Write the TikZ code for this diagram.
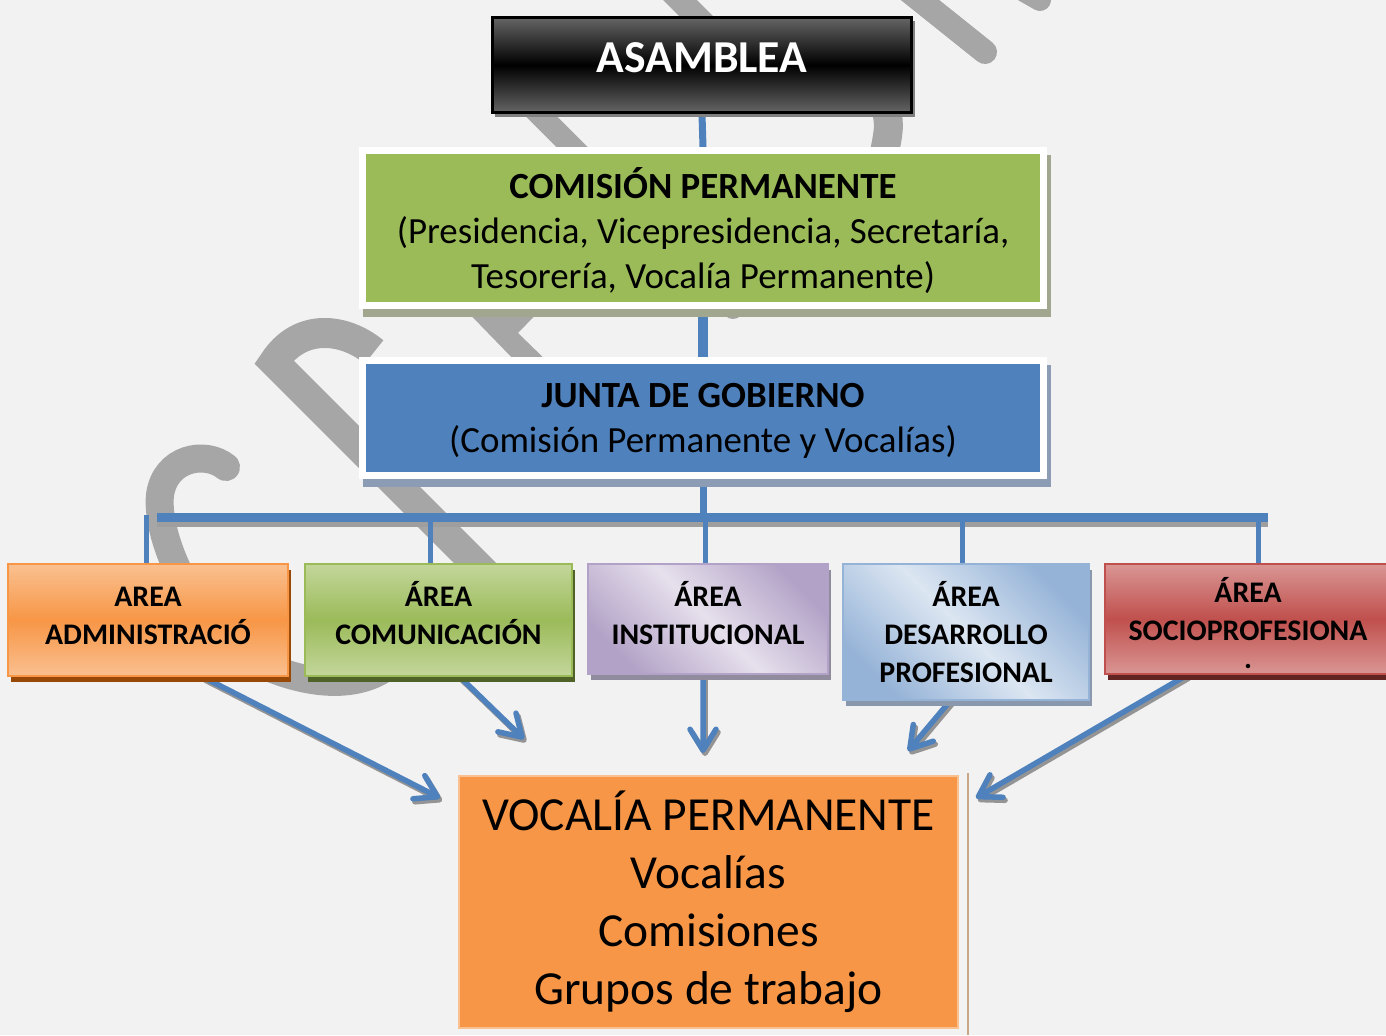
\documentclass[tikz,border=0pt]{standalone}
\usepackage{fontspec}
\setmainfont{Carlito}
\usetikzlibrary{arrows.meta,shadows}
\pgfdeclarelayer{wm}
\pgfdeclarelayer{bg}
\pgfsetlayers{wm,bg,main}
\definecolor{bgcol}{HTML}{F2F2F2}
\definecolor{wmgray}{HTML}{A6A6A6}
\definecolor{blueline}{HTML}{4F81BD}
\definecolor{comgreen}{HTML}{9BBB59}
\definecolor{comshadow}{HTML}{A0A78E}
\definecolor{juntablue}{HTML}{4F81BD}
\definecolor{juntashadow}{HTML}{8C9CB4}
\definecolor{admL}{HTML}{FAC090}
\definecolor{admD}{HTML}{F79646}
\definecolor{admS}{HTML}{984807}
\definecolor{comL}{HTML}{C3D69B}
\definecolor{comD}{HTML}{9BBB59}
\definecolor{comS}{HTML}{4F6228}
\definecolor{insL}{HTML}{E6E0EC}
\definecolor{insD}{HTML}{B3A2C7}
\definecolor{insS}{HTML}{908C9E}
\definecolor{desL}{HTML}{DCE6F2}
\definecolor{desD}{HTML}{95B3D7}
\definecolor{desS}{HTML}{8A98AE}
\definecolor{socL}{HTML}{D99694}
\definecolor{socD}{HTML}{C0504D}
\definecolor{socS}{HTML}{632523}
\definecolor{vocfill}{HTML}{F79646}
\definecolor{tanline}{HTML}{C8A68A}

\begin{document}
\begin{tikzpicture}[x=0.02cm, y=-0.02cm,
		wmark/.style={draw=wmgray, line width=0.5cm},
		conn/.style={draw=blueline, line width=0.14cm},
		barline/.style={draw=blueline, line width=0.18cm},
		dropline/.style={draw=blueline, line width=0.1cm},
		arr/.style={draw=blueline, line width=0.11cm, -{Straight Barb[length=0.42cm, width=0.52cm, round]}},
		arrsh/.style={draw=black!42, line width=0.11cm, -{Straight Barb[length=0.42cm, width=0.52cm, round]}, transform canvas={shift={(0.04cm,-0.06cm)}}},
		topbox/.style={top color=black!60, bottom color=black!60, middle color=black, draw=black, line width=0.06cm,
			drop shadow={shadow xshift=0.06cm, shadow yshift=-0.08cm, fill=black!50, opacity=1},
			minimum width=8.4cm, minimum height=1.92cm, inner sep=0pt, text depth=0.28cm, text=white, font=\fontsize{26}{30}\selectfont\bfseries},
		bigbox/.style 2 args={fill=#1, draw=white, line width=0.14cm,
			preaction={fill=#2, draw=#2, line width=0.14cm, transform canvas={shift={(0.08cm,-0.16cm)}}},
			minimum width=13.62cm, align=center, inner sep=0pt, text depth=0pt, font=\fontsize{21}{25.5}\selectfont},
		areabox/.style={align=center, inner sep=0pt, line width=0.04cm, font=\fontsize{17}{21.5}\selectfont\bfseries},
		vgrad/.style 2 args={top color=#1, bottom color=#1, middle color=#2, draw=#2},
		dgrad/.style 2 args={top color=#2, bottom color=#2, middle color=#1, shading angle=-45, draw=#2},
		areash/.style={drop shadow={shadow xshift=0.06cm, shadow yshift=-0.12cm, fill=#1, opacity=1}},
	]
	\useasboundingbox (0,0) rectangle (1386,1035);
	
	% background and watermark
	\begin{pgfonlayer}{wm}
		\fill[bgcol] (0,0) rectangle (1386,1035);
		\draw[wmark, line width=0.6cm] (374,352) .. controls (345,328) and (300,322) .. (274,362) -- (500,588);
		\draw[wmark, line width=0.56cm, line cap=round] (226,467) .. controls (205,450) and (165,458) .. (160,495) .. controls (155,540) and (200,640) .. (270,668) .. controls (320,688) and (360,685) .. (385,668);
		\fill[wmgray] (456,300) -- (550,300) -- (518,333) -- (552,366) -- (520,366) -- cycle;
		\draw[wmark, line width=0.44cm, line cap=round] (520,95) -- (733,308);
		\draw[wmark, line width=0.48cm] (670,-10) -- (720,40);
		\draw[wmark, line width=0.48cm, line cap=round] (905,-12) -- (985,52);
		\draw[wmark, line width=0.44cm, line cap=round] (1005,-20) -- (1040,0);
		\draw[wmark, line width=0.58cm] (884,100) .. controls (890,125) .. (883,160);
	\end{pgfonlayer}
	
	% boxes
	\node[topbox] (asamblea) at (702,65) {ASAMBLEA};
	\node[bigbox={comgreen}{comshadow}, minimum height=3.1cm] (comision) at (703,228)
		{\textbf{COMISIÓN PERMANENTE}\\(Presidencia, Vicepresidencia, Secretaría,\\Tesorería, Vocalía Permanente)};
	\node[bigbox={juntablue}{juntashadow}, minimum height=2.3cm] (junta) at (703,418)
		{\textbf{JUNTA DE GOBIERNO}\\(Comisión Permanente y Vocalías)};
	
	\node[areabox, vgrad={admL}{admD}, areash=admS, minimum width=5.6cm, minimum height=2.24cm, text depth=0.16cm] (admin) at (148,620) {AREA\\ADMINISTRACIÓ};
	\node[areabox, vgrad={comL}{comD}, areash=comS, minimum width=5.34cm, minimum height=2.24cm, text depth=0.28cm] (comunic) at (438.5,620) {ÁREA\\COMUNICACIÓN};
	\node[areabox, dgrad={insL}{insD}, areash=insS, minimum width=4.8cm, minimum height=2.2cm, text depth=0.24cm] (instit) at (708,619) {ÁREA\\INSTITUCIONAL};
	\node[areabox, dgrad={desL}{desD}, areash=desS, minimum width=4.92cm, minimum height=2.72cm] (desarr) at (966,632) {ÁREA\\DESARROLLO\\PROFESIONAL};
	\node[areabox, vgrad={socL}{socD}, areash=socS, minimum width=5.72cm, minimum height=2.2cm, text height=1.96cm, text depth=0pt] (socio) at (1248,619) {ÁREA\\SOCIOPROFESIONA\\[-6pt].};
	
	\node[fill=vocfill, draw=admL, line width=0.03cm, minimum width=9.98cm, minimum height=5.04cm, align=center, inner sep=0pt,
		font=\fontsize{27}{33}\selectfont] (vocalia) at (708.5,902) {VOCALÍA PERMANENTE\\Vocalías\\Comisiones\\Grupos de trabajo};
	\draw[tanline, line width=0.05cm] (968,773) -- (968,1035);
	
	% connectors
	\coordinate (barL) at (157,517);
	\coordinate (barR) at (1268,517);
	\coordinate (d1) at (146,515);
	\coordinate (d2) at (430,517);
	\coordinate (d3) at (705,517);
	\coordinate (d4) at (962,517);
	\coordinate (d5) at (1258,517);
	\coordinate (t1) at (440,798);
	\coordinate (t2) at (524,739);
	\coordinate (t3) at (703,753);
	\coordinate (t4) at (908,751);
	\coordinate (t5) at (976,798);
	
	\begin{pgfonlayer}{bg}
		\draw[conn] (asamblea.south) -- (comision.north);
		\draw[conn, line width=0.2cm] (comision.south) -- (junta.north);
		\draw[conn] (junta.south) -- (junta.south |- barL);
		\draw[barline, draw=black!38, transform canvas={shift={(0cm,-0.1cm)}}] (barL) -- (barR);
		\draw[barline] (barL) -- (barR);
		\draw[dropline] (d1) -- (d1 |- admin.north);
		\draw[dropline] (d2) -- (d2 |- comunic.north);
		\draw[dropline] (d3) -- (d3 |- instit.north);
		\draw[dropline] (d4) -- (d4 |- desarr.north);
		\draw[dropline] (d5) -- (d5 |- socio.north);
		
		\foreach \n/\dx/\t in {admin/1.1/t1, comunic/0.43/t2, instit/-0.1/t3, desarr/-0.32/t4, socio/-1.22/t5}{
			\draw[arrsh] ([xshift=\dx cm]\n.south) -- (\t);
			\draw[arr] ([xshift=\dx cm]\n.south) -- (\t);
		}
	\end{pgfonlayer}
	
\end{tikzpicture}
\end{document}
